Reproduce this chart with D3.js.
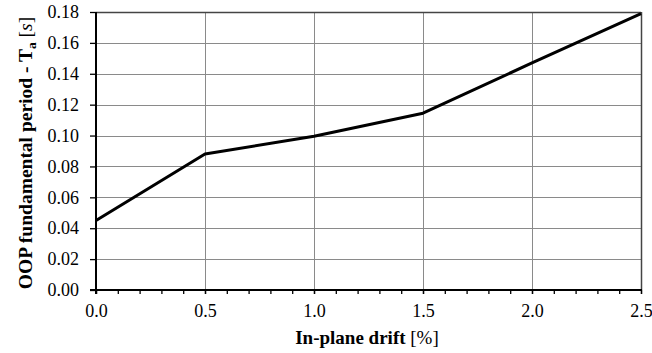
<!DOCTYPE html>
<html>
<head>
<meta charset="utf-8">
<script src="https://cdn.jsdelivr.net/npm/d3@7"></script>
<style>
  html, body { margin: 0; padding: 0; background: #fff; }
  svg { display: block; font-family: "Liberation Serif", "Times New Roman", serif; }
</style>
</head>
<body>
<svg id="chart" width="652" height="353"></svg>
<script>
// In-plane drift [%] vs out-of-plane fundamental period [s]
const drift = [0.0, 0.5, 1.0, 1.5, 2.0, 2.5];
const period = [0.045, 0.088, 0.0995, 0.1145, 0.147, 0.179];
const xTicks = [0.0, 0.5, 1.0, 1.5, 2.0, 2.5];
const yTicks = [0.00, 0.02, 0.04, 0.06, 0.08, 0.10, 0.12, 0.14, 0.16, 0.18];

const svg = d3.select("#chart");
const m = { left: 96, right: 641, top: 12, bottom: 290 };

const x = d3.scaleLinear().domain([0, 2.5]).range([m.left, m.right]);
const y = d3.scaleLinear().domain([0, 0.18]).range([m.bottom, m.top]);

// gridlines
const grid = svg.append("g").attr("stroke", "#8a8a8a").attr("stroke-width", 1);
grid.selectAll(".gy").data(yTicks.slice(1)).join("line")
  .attr("x1", m.left).attr("x2", m.right)
  .attr("y1", d => Math.round(y(d)) + 0.5).attr("y2", d => Math.round(y(d)) + 0.5);
grid.selectAll(".gx").data(xTicks.slice(1)).join("line")
  .attr("y1", m.top).attr("y2", m.bottom)
  .attr("x1", d => Math.round(x(d)) + 0.5).attr("x2", d => Math.round(x(d)) + 0.5);

// top and right frame
svg.append("line").attr("x1", m.left).attr("x2", m.right).attr("y1", m.top + 0.5).attr("y2", m.top + 0.5)
  .attr("stroke", "#444").attr("stroke-width", 1.5);
svg.append("line").attr("x1", m.right + 0.5).attr("x2", m.right + 0.5).attr("y1", m.top).attr("y2", m.bottom)
  .attr("stroke", "#444").attr("stroke-width", 1.5);

// x axis with minor ticks
const xMinor = d3.range(0, 26).map(i => i / 10);
const xAxis = svg.append("g").attr("transform", `translate(0,${m.bottom})`);
xAxis.append("g").call(d3.axisBottom(x).tickValues(xMinor).tickSize(4).tickFormat(""))
  .call(g => g.select(".domain").remove())
  .call(g => g.selectAll("line").attr("stroke", "#000").attr("stroke-width", 1.3));
xAxis.append("g").call(d3.axisBottom(x).tickValues(xTicks).tickSize(4).tickPadding(10).tickFormat(d3.format(".1f")))
  .call(g => g.select(".domain").attr("stroke", "#000").attr("stroke-width", 2).attr("d", `M${m.left - 6},0H${m.right + 1}`))
  .call(g => g.selectAll("line").attr("stroke", "#000").attr("stroke-width", 1.3))
  .call(g => g.selectAll("text").attr("font-size", 18).attr("fill", "#000")
    .attr("font-family", "Liberation Serif, serif"));

// y axis
svg.append("g").attr("transform", `translate(${m.left},0)`)
  .call(d3.axisLeft(y).tickValues(yTicks).tickSize(6).tickPadding(11).tickFormat(d3.format(".2f")))
  .call(g => g.select(".domain").attr("stroke", "#000").attr("stroke-width", 2).attr("d", `M0,${m.bottom + 4}V${m.top}`))
  .call(g => g.selectAll("line").attr("stroke", "#000").attr("stroke-width", 1.3))
  .call(g => g.selectAll("text").attr("font-size", 18).attr("fill", "#000")
    .attr("font-family", "Liberation Serif, serif"));

// data line
svg.append("path")
  .datum(drift.map((d, i) => [d, period[i]]))
  .attr("fill", "none").attr("stroke", "#000").attr("stroke-width", 3)
  .attr("stroke-linejoin", "round")
  .attr("d", d3.line().x(d => x(d[0])).y(d => y(d[1])));

// axis titles
const xt = svg.append("text").attr("x", 367).attr("y", 344)
  .attr("text-anchor", "middle").attr("font-size", 19).attr("fill", "#000");
xt.append("tspan").attr("font-weight", "bold").text("In-plane drift ");
xt.append("tspan").text("[%]");

const yt = svg.append("text").attr("transform", `translate(32,${(m.top + m.bottom) / 2 + 2}) rotate(-90)`)
  .attr("text-anchor", "middle").attr("font-size", 19.5).attr("fill", "#000");
yt.append("tspan").attr("font-weight", "bold").text("OOP fundamental period - T");
yt.append("tspan").attr("font-weight", "bold").attr("font-size", 13.5).attr("dy", 4).text("a");
yt.append("tspan").attr("dy", -4).text(" [");
yt.append("tspan").attr("font-style", "italic").text("s");
yt.append("tspan").text("]");
</script>
</body>
</html>
